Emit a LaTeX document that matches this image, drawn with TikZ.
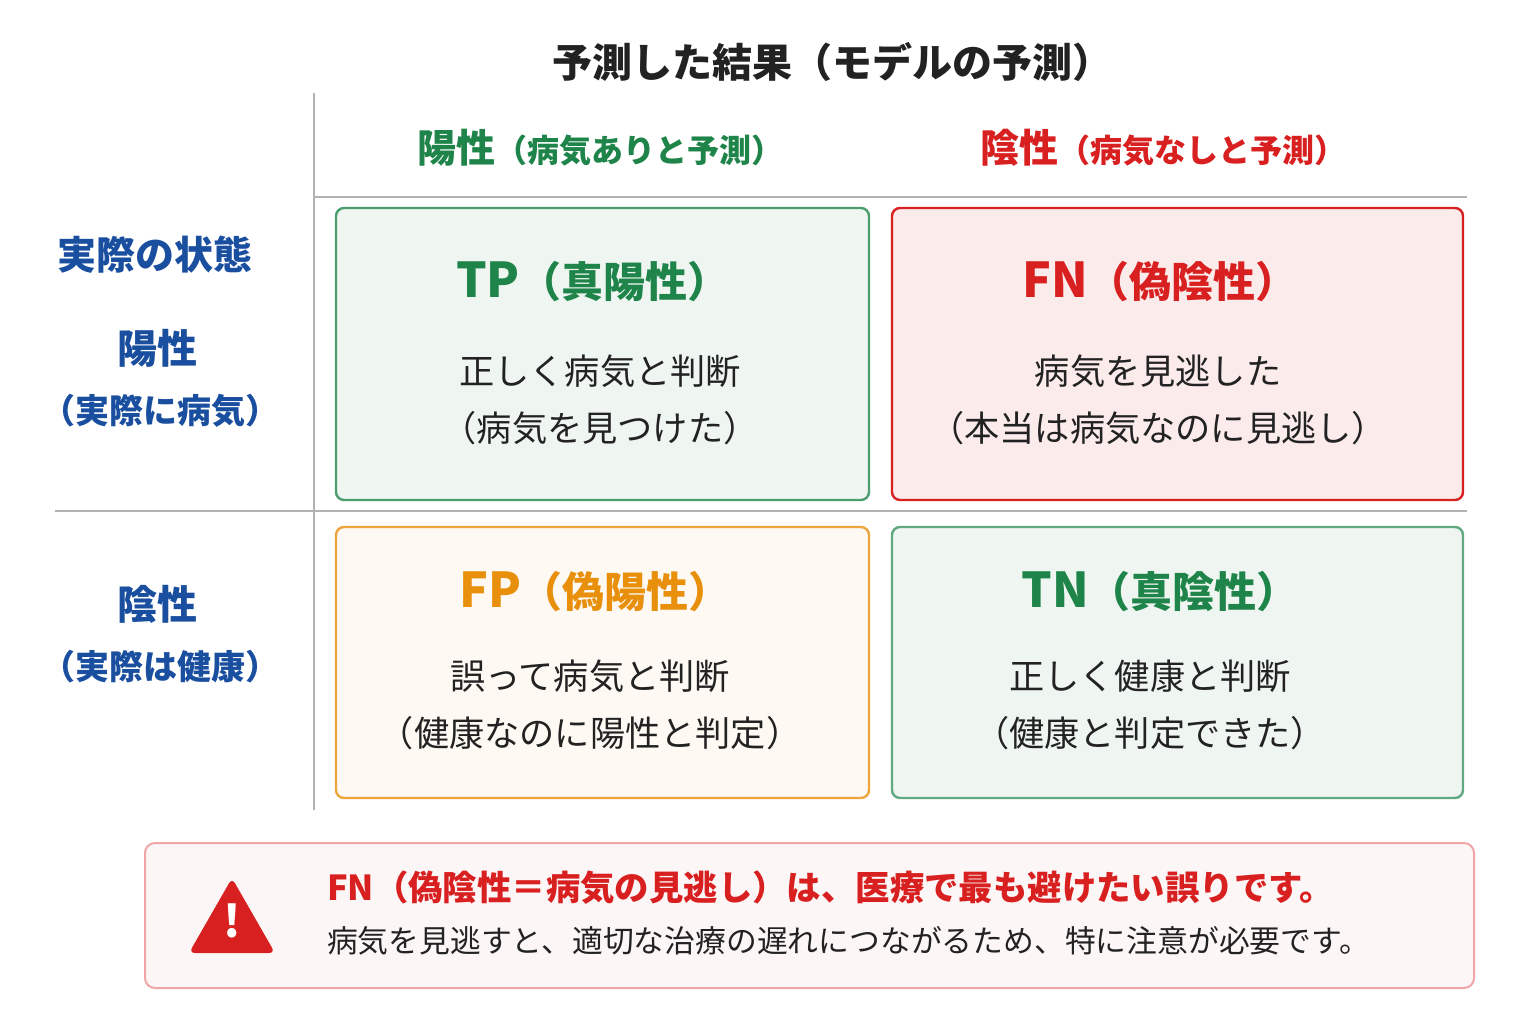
\documentclass[tikz,border=0pt]{standalone}
\usepackage{fontspec}
\setmainfont{Noto Sans CJK JP}
\definecolor{gr}{HTML}{1E8449}
\definecolor{rd}{HTML}{D92020}
\definecolor{og}{HTML}{E8900C}
\definecolor{bl}{HTML}{1A4FA0}
\definecolor{tx}{HTML}{222222}
\begin{document}
\begin{tikzpicture}[x=0.5pt,y=-0.5pt,
 cell/.style={draw,line width=1.2pt,rounded corners=4pt},
 big/.style={font=\fontsize{24}{28}\selectfont\bfseries},
 body/.style={font=\fontsize{17.6}{28.5}\selectfont,text=tx,align=center},
 hd/.style={font=\fontsize{19.5}{22}\selectfont\bfseries},
 lab/.style={font=\fontsize{17}{20}\selectfont\bfseries,text=bl}]
\useasboundingbox[fill=white] (0,0) rectangle (1536,1024);
\node[font=\fontsize{20}{24}\selectfont\bfseries,text=tx] (title) at (832,62) {予測した結果（モデルの予測）};
\draw[gray!60,line width=1pt] (314,93) -- (314,810);
\draw[gray!60,line width=1pt] (314,197) -- (1467,197);
\draw[gray!60,line width=1pt] (55,511) -- (1467,511);
\node[hd,text=gr] (cp) at (600,148) {陽性\fontsize{16}{18}\selectfont（病気ありと予測）};
\node[hd,text=rd] (cn) at (1163,148) {陰性\fontsize{16}{18}\selectfont（病気なしと予測）};
\node[lab,font=\fontsize{19.5}{22}\selectfont\bfseries] (rs) at (155,255) {実際の状態};
\node[lab,font=\fontsize{20}{22}\selectfont\bfseries] (rp) at (157,348) {陽性};
\node[lab] (rp2) at (160,411) {（実際に病気）};
\node[lab,font=\fontsize{20}{22}\selectfont\bfseries] (rn) at (157,604) {陰性};
\node[lab] (rn2) at (160,667) {（実際は健康）};
\draw[cell,draw=gr!80,fill=gr!7] (336,208) rectangle (869,500);
\draw[cell,draw=rd,fill=rd!9] (892,208) rectangle (1463,500);
\draw[cell,draw=og!80,fill=og!5] (336,527) rectangle (869,798);
\draw[cell,draw=gr!70,fill=gr!7] (892,527) rectangle (1463,798);
\node[big,text=gr] (tp) at (593,282) {TP\fontsize{21}{24}\selectfont（真陽性）};
\node[body] (tpb) at (600,400) {正しく病気と判断\\（病気を見つけた）};
\node[big,text=rd] (fn) at (1160,282) {FN\fontsize{21}{24}\selectfont（偽陰性）};
\node[body] (fnb) at (1158,400) {病気を見逃した\\（本当は病気なのに見逃し）};
\node[big,text=og] (fp) at (595,592) {FP\fontsize{21}{24}\selectfont（偽陽性）};
\node[body] (fpb) at (590,705) {誤って病気と判断\\（健康なのに陽性と判定）};
\node[big,text=gr] (tn) at (1160,592) {TN\fontsize{21}{24}\selectfont（真陰性）};
\node[body] (tnb) at (1150,705) {正しく健康と判断\\（健康と判定できた）};
\draw[draw=rd!40,fill=rd!4,line width=1pt,rounded corners=5pt] (145,843) rectangle (1474,988);
\fill[rd,rounded corners=3pt] (232,878) -- (275,953) -- (189,953) -- cycle;
\node[text=white,font=\fontsize{22}{24}\selectfont\bfseries] (ex) at (232,921) {!};
\node[anchor=west,text=rd,font=\fontsize{17.2}{19}\selectfont\bfseries] (w1) at (320,888) {FN（偽陰性＝病気の見逃し）は、医療で最も避けたい誤りです。};
\node[anchor=west,text=tx,font=\fontsize{15.4}{18}\selectfont] (w2) at (320,941) {病気を見逃すと、適切な治療の遅れにつながるため、特に注意が必要です。};
\end{tikzpicture}
\end{document}
